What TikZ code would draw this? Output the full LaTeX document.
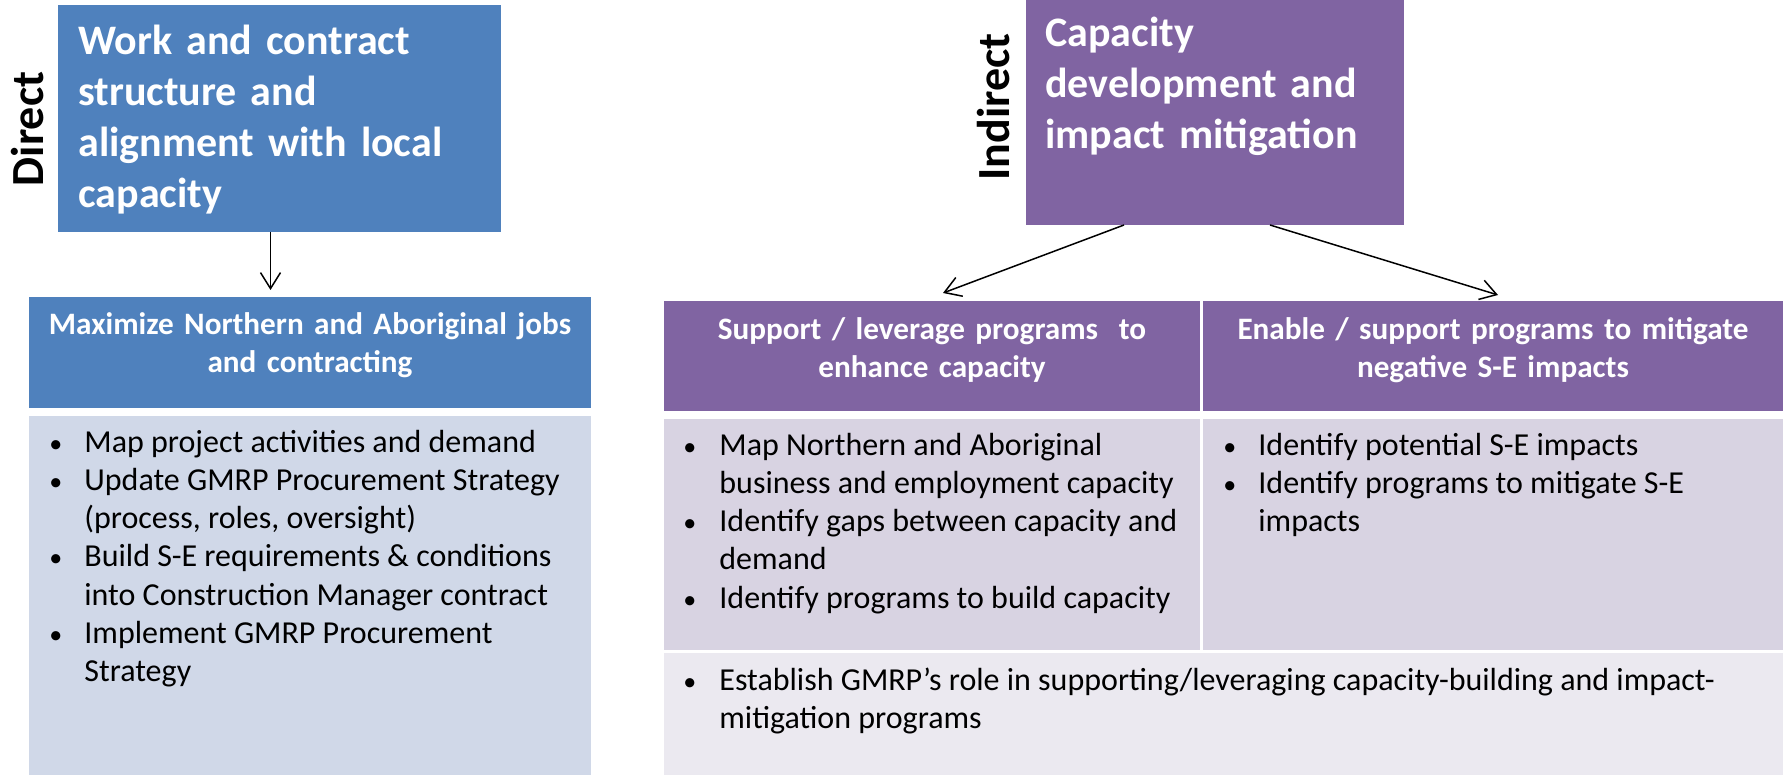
\documentclass[tikz,border=0pt]{standalone}
\usepackage{fontspec}
\setmainfont{Carlito}
\usetikzlibrary{arrows.meta,calc,fit}
\definecolor{accblue}{HTML}{4F81BD}
\definecolor{accpurple}{HTML}{8064A2}
\definecolor{bodyblue}{HTML}{D0D8E8}
\definecolor{bodypurple}{HTML}{D8D3E2}
\definecolor{bodylight}{HTML}{EBE9F0}
\newcommand{\bul}{{\fontsize{13pt}{13pt}\selectfont\textbullet}}
\begin{document}
\begin{tikzpicture}[x=0.5pt,y=-0.5pt,
  panel/.style={inner sep=0pt, outer sep=0pt, draw=none},
  ttl/.style={text=white, font=\bfseries\fontsize{21pt}{25.5pt}\selectfont, align=left, text width=215pt, anchor=base west, inner sep=0pt},
  hdr/.style={text=white, font=\bfseries\fontsize{15.6pt}{19pt}\selectfont, align=center, text width=285pt, anchor=base, inner sep=0pt},
  side/.style={font=\bfseries\fontsize{23pt}{27pt}\selectfont, rotate=90, inner sep=0pt},
  bodytxt/.style={font=\fontsize{16pt}{19.15pt}\selectfont, anchor=base west, inner sep=0pt},
  arr/.style={-{Straight Barb[length=8pt,width=10pt]}, line width=0.75pt, black}]
\useasboundingbox (0,0) rectangle (1783,775);

% ---- left column ----
\node[panel, fill=accblue, fit={(58,5) (501,232)}] (blueTop) {};
\node[ttl] (blueTtl) at (78,55) {Work and contract\\structure and\\alignment with local\\capacity};
\node[side] (direct) at (28,129) {Direct};

\node[panel, fill=accblue, fit={(29,297) (591,408)}] (hdrL) {};
\node[hdr] (hdrLtxt) at (310,335) {Maximize Northern and Aboriginal jobs\\and contracting};

\node[panel, fill=bodyblue, fit={(29,416) (591,775)}] (bodyL) {};
\node[bodytxt] (bodyLtxt) at (49,452) {\begin{tabular}[t]{@{}p{17.5pt}@{}l@{}}
\bul & Map project activities and demand\\
\bul & Update GMRP Procurement Strategy\\
 & (process, roles, oversight)\\
\bul & Build S-E requirements \& conditions\\
 & into Construction Manager contract\\
\bul & Implement GMRP Procurement\\
 & Strategy
\end{tabular}};

\draw[arr, shorten >=3.5pt] ([xshift=-4.5pt]blueTop.south) -- ([xshift=-4.5pt]blueTop.south |- hdrL.north);

% ---- right part ----
\node[panel, fill=accpurple, fit={(1026,0) (1404,225)}] (purTop) {};
\node[ttl] (purTtl) at (1045,47) {Capacity\\development and\\impact mitigation};
\node[side] (indirect) at (994,107) {Indirect};

\node[panel, fill=accpurple, fit={(664,301) (1200,411)}] (hdrM) {};
\node[hdr] (hdrMtxt) at (932,340) {Support / leverage programs \ to\\enhance capacity};
\node[panel, fill=accpurple, fit={(1203,301) (1783,411)}] (hdrR) {};
\node[hdr] (hdrRtxt) at (1493,340) {Enable / support programs to mitigate\\negative S-E impacts};

\node[panel, fill=bodypurple, fit={(664,419) (1200,650)}] (bodyM) {};
\node[panel, fill=bodypurple, fit={(1203,419) (1783,650)}] (bodyR) {};
\node[panel, fill=bodylight, fit={(664,653) (1783,775)}] (bodyB) {};

\node[bodytxt] (bodyMtxt) at (683,455) {\begin{tabular}[t]{@{}p{18pt}@{}l@{}}
\bul & Map Northern and Aboriginal\\
 & business and employment capacity\\
\bul & Identify gaps between capacity and\\
 & demand\\
\bul & Identify programs to build capacity
\end{tabular}};
\node[bodytxt] (bodyRtxt) at (1223,455) {\begin{tabular}[t]{@{}p{17.5pt}@{}l@{}}
\bul & Identify potential S-E impacts\\
\bul & Identify programs to mitigate S-E\\
 & impacts
\end{tabular}};
\node[bodytxt] (bodyBtxt) at (683,690) {\begin{tabular}[t]{@{}p{18pt}@{}l@{}}
\bul & Establish GMRP’s role in supporting/leveraging capacity-building and impact-\\
 & mitigation programs
\end{tabular}};

\draw[arr] ($(purTop.south)+(-91,0)$) -- ($(hdrM.north)+(11,-8)$);
\draw[arr] ($(purTop.south)+(55,0)$) -- ($(hdrR.north)+(5,-6)$);
\end{tikzpicture}
\end{document}
